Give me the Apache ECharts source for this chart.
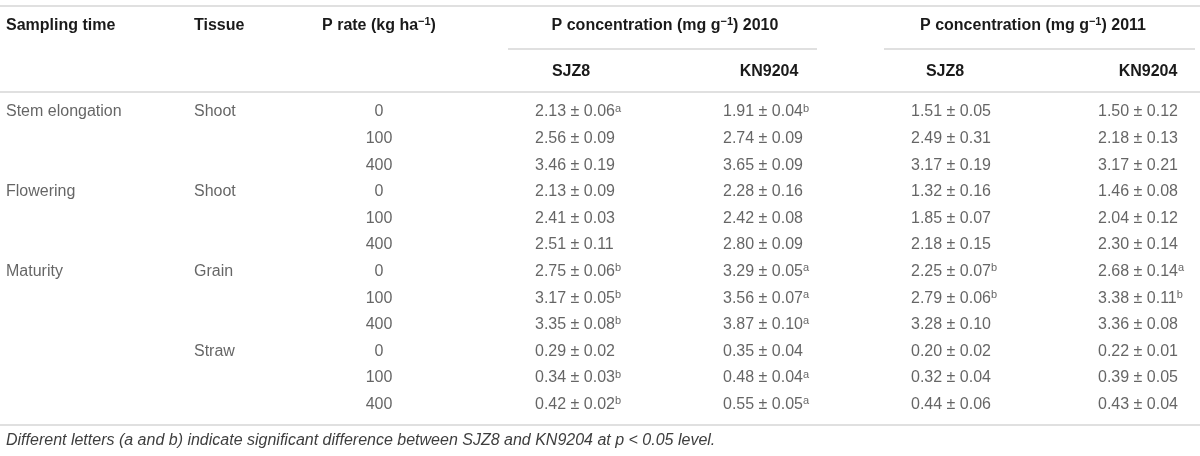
<!DOCTYPE html>
<html>
<head>
<meta charset="utf-8">
<script src="https://cdn.jsdelivr.net/npm/echarts@6/dist/echarts.min.js"></script>
<style>
html,body{margin:0;padding:0;background:#fff;}
#chart{width:1200px;height:456px;}
</style>
</head>
<body>
<div id="chart"></div>
<script>
// ---------- data ----------
const rowIds = ['1','2','3','4','5','6','7','8','9','10','11','12'];
const samplingTime = ['Stem elongation','','','Flowering','','','Maturity','','','','',''];
const tissue = ['Shoot','','','Shoot','','','Grain','','','Straw','',''];
const pRate = [0,100,400,0,100,400,0,100,400,0,100,400];

const sjz2010Mean = [2.13,2.56,3.46,2.13,2.41,2.51,2.75,3.17,3.35,0.29,0.34,0.42];
const sjz2010Sd   = [0.06,0.09,0.19,0.09,0.03,0.11,0.06,0.05,0.08,0.02,0.03,0.02];
const sjz2010Sig  = ['a','','','','','','b','b','b','','b','b'];

const kn2010Mean = [1.91,2.74,3.65,2.28,2.42,2.80,3.29,3.56,3.87,0.35,0.48,0.55];
const kn2010Sd   = [0.04,0.09,0.09,0.16,0.08,0.09,0.05,0.07,0.10,0.04,0.04,0.05];
const kn2010Sig  = ['b','','','','','','a','a','a','','a','a'];

const sjz2011Mean = [1.51,2.49,3.17,1.32,1.85,2.18,2.25,2.79,3.28,0.20,0.32,0.44];
const sjz2011Sd   = [0.05,0.31,0.19,0.16,0.07,0.15,0.07,0.06,0.10,0.02,0.04,0.06];
const sjz2011Sig  = ['','','','','','','b','b','','','',''];

const kn2011Mean = [1.50,2.18,3.17,1.46,2.04,2.30,2.68,3.38,3.36,0.22,0.39,0.43];
const kn2011Sd   = [0.12,0.13,0.21,0.08,0.12,0.14,0.14,0.11,0.08,0.01,0.05,0.04];
const kn2011Sig  = ['','','','','','','a','b','','','',''];

const headerTop = ['Sampling time','Tissue','P rate (kg ha','P concentration (mg g',') 2010',') 2011'];
const headerSub = ['SJZ8','KN9204','SJZ8','KN9204'];
const footnote = 'Different letters (a and b) indicate significant difference between SJZ8 and KN9204 at p < 0.05 level.';

// ---------- layout / style ----------
const FONT = '"Liberation Sans", Arial, Helvetica, sans-serif';
const BODY_COLOR = '#3e3e3e';
const HEAD_COLOR = '#1a1a1a';
const RULE = '#d6d6d6';
const BODY_SIZE = 16;
const HEAD_SIZE = 16;

const columns = [
  {x: 6,    align: 'left',   cells: samplingTime.map(t => ({text: t, sig: ''}))},
  {x: 194,  align: 'left',   cells: tissue.map(t => ({text: t, sig: ''}))},
  {x: 379,  align: 'center', cells: pRate.map(v => ({text: String(v), sig: ''}))},
  {x: 535,  align: 'left',   cells: sjz2010Mean.map((m,i) => ({text: m.toFixed(2) + ' ± ' + sjz2010Sd[i].toFixed(2), sig: sjz2010Sig[i]}))},
  {x: 723,  align: 'left',   cells: kn2010Mean.map((m,i) => ({text: m.toFixed(2) + ' ± ' + kn2010Sd[i].toFixed(2), sig: kn2010Sig[i]}))},
  {x: 911,  align: 'left',   cells: sjz2011Mean.map((m,i) => ({text: m.toFixed(2) + ' ± ' + sjz2011Sd[i].toFixed(2), sig: sjz2011Sig[i]}))},
  {x: 1098, align: 'left',   cells: kn2011Mean.map((m,i) => ({text: m.toFixed(2) + ' ± ' + kn2011Sd[i].toFixed(2), sig: kn2011Sig[i]}))}
];

const richBody = {
  v: {fontSize: BODY_SIZE, fontFamily: FONT, color: BODY_COLOR, lineHeight: 18},
  s: {fontSize: 11, fontFamily: FONT, color: BODY_COLOR, lineHeight: 18, verticalAlign: 'top', padding: [0,0,0,0]}
};

const series = columns.map(col => ({
  type: 'scatter',
  symbolSize: 1,
  silent: true,
  animation: false,
  itemStyle: {color: 'rgba(0,0,0,0)'},
  emphasis: {disabled: true},
  data: col.cells
    .map((c, i) => ({value: [col.x, i], text: c.text, sig: c.sig}))
    .filter(d => d.text !== ''),
  label: {
    show: true,
    position: 'inside',
    align: col.align,
    verticalAlign: 'middle',
    rich: richBody,
    formatter: p => p.data.sig ? '{v|' + p.data.text + '}{s|' + p.data.sig + '}' : '{v|' + p.data.text + '}'
  }
}));

const richHead = {
  b: {fontSize: HEAD_SIZE, fontWeight: 'bold', fontFamily: FONT, color: HEAD_COLOR, lineHeight: 20},
  s: {fontSize: 11, fontWeight: 'bold', fontFamily: FONT, color: HEAD_COLOR, lineHeight: 20, verticalAlign: 'top'}
};

function headText(x, y, text, align) {
  return {
    type: 'text', x: x, y: y, silent: true,
    style: {text: text, rich: richHead, align: align, verticalAlign: 'middle', fontFamily: FONT, fontSize: HEAD_SIZE, fontWeight: 'bold', fill: HEAD_COLOR}
  };
}
function rule(x1, y, x2) {
  return {type: 'line', silent: true, shape: {x1: x1, y1: y, x2: x2, y2: y}, style: {stroke: RULE, lineWidth: 1.5}};
}

const graphics = [
  rule(0, 6, 1200),
  rule(508, 49, 817),
  rule(884, 49, 1195),
  rule(0, 92, 1200),
  rule(0, 425, 1200),
  headText(6, 26, '{b|' + headerTop[0] + '}', 'left'),
  headText(194, 26, '{b|' + headerTop[1] + '}', 'left'),
  headText(379, 26, '{b|' + headerTop[2] + '}{s|−1}{b|)}', 'center'),
  headText(665, 26, '{b|' + headerTop[3] + '}{s|−1}{b|' + headerTop[4] + '}', 'center'),
  headText(1033, 26, '{b|' + headerTop[3] + '}{s|−1}{b|' + headerTop[5] + '}', 'center'),
  headText(571, 72, '{b|' + headerSub[0] + '}', 'center'),
  headText(769, 72, '{b|' + headerSub[1] + '}', 'center'),
  headText(945, 72, '{b|' + headerSub[2] + '}', 'center'),
  headText(1148, 72, '{b|' + headerSub[3] + '}', 'center'),
  {
    type: 'text', x: 6, y: 441, silent: true,
    style: {text: footnote, fontFamily: FONT, fontSize: 16, fontStyle: 'italic', fill: BODY_COLOR, align: 'left', verticalAlign: 'middle'}
  }
];

const chart = echarts.init(document.getElementById('chart'), null, {renderer: 'canvas'});
chart.setOption({
  animation: false,
  backgroundColor: '#ffffff',
  grid: {left: 0, right: 0, top: 98.7, bottom: 38.1, containLabel: false},
  xAxis: {type: 'value', min: 0, max: 1200, show: false},
  yAxis: {type: 'category', data: rowIds, inverse: true, show: false},
  graphic: graphics,
  series: series
});
</script>
</body>
</html>
